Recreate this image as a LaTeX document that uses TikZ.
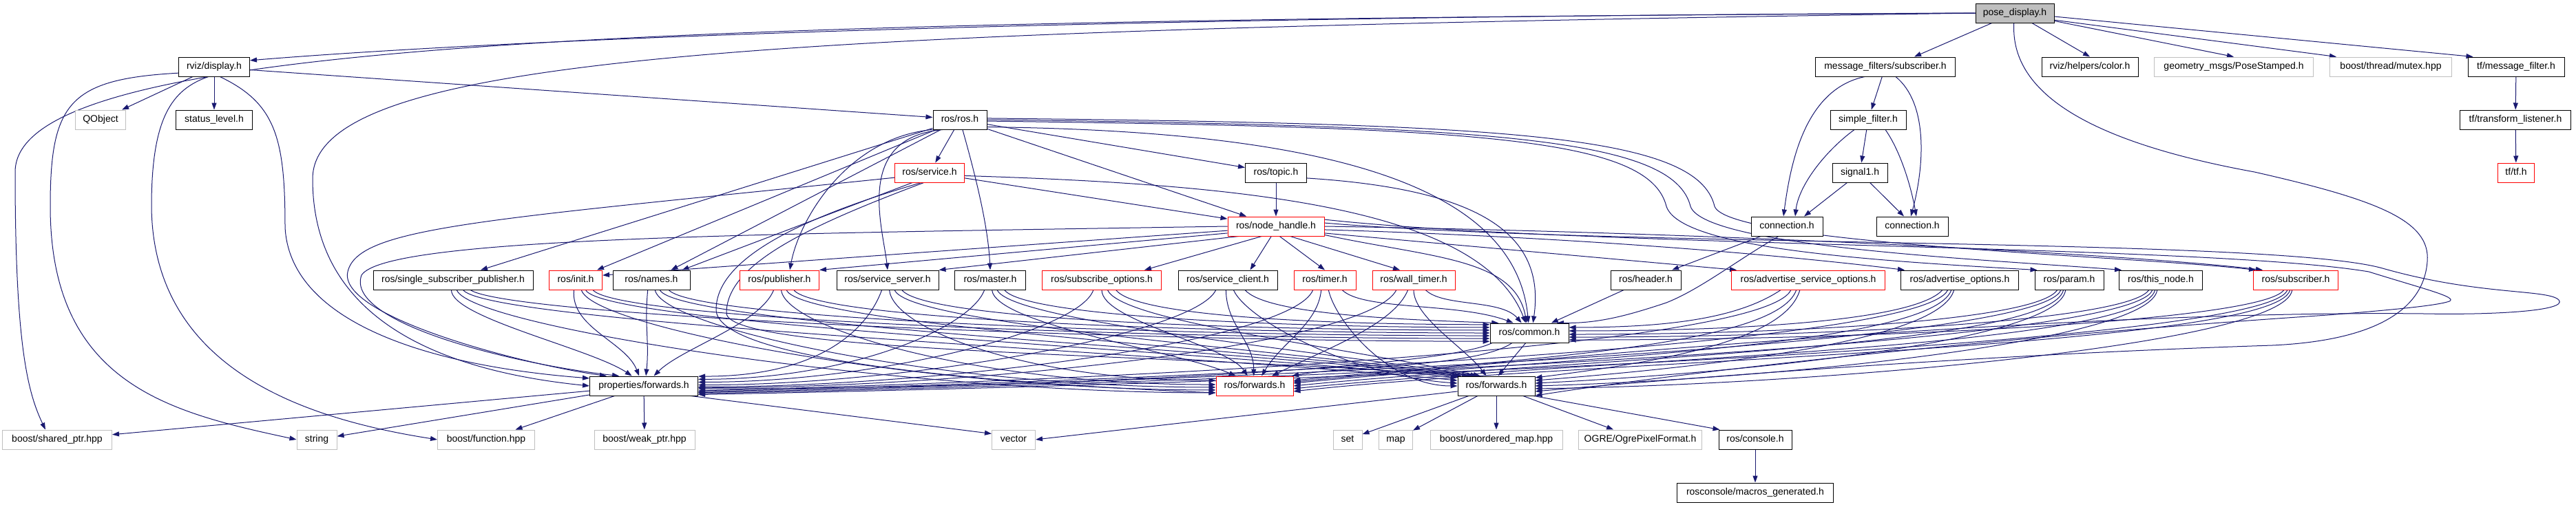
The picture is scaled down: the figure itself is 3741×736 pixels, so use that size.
\documentclass[tikz,border=0pt]{standalone}
\usepackage{fontspec}
\setmainfont{Liberation Sans}
\usetikzlibrary{arrows.meta}
\definecolor{edgec}{HTML}{191970}
\definecolor{gryc}{HTML}{BFBFBF}
\pgfdeclarelayer{back}
\pgfdeclarelayer{bg}
\pgfsetlayers{back,bg,main}
\tikzset{
 nb/.style={draw=black,line width=1pt,fill=white,rectangle,minimum height=28pt,inner sep=0pt,text height=10pt,text depth=3pt,font=\fontsize{14}{16}\selectfont},
 nr/.style={nb,draw=red},
 ng/.style={nb,draw=gryc},
 np/.style={nb,fill=gryc},
 e/.style={draw=edgec,line width=1pt,-{Triangle[length=10pt,width=7pt]}},
}
\newcommand\ed[4]{\draw[e] (#1) .. controls +(#3) and +(#4) .. (#2);}
\begin{document}
\begin{tikzpicture}[x=1pt,y=-1pt]
\begin{pgfonlayer}{back}
\fill[white] (0,0) rectangle (3741,736);
\end{pgfonlayer}
\useasboundingbox (0,0) rectangle (3741,736);
% row A/B
\node[np,minimum width=114pt] (pose) at (2926,19) {pose\_display.h};
\node[nb,minimum width=103pt] (rvizdisp) at (311,97) {rviz/display.h};
\node[nb,minimum width=203pt] (mfsub) at (2738,97) {message\_filters/subscriber.h};
\node[nb,minimum width=140pt] (color) at (3035,97) {rviz/helpers/color.h};
\node[ng,minimum width=231pt] (geom) at (3244,97) {geometry\_msgs/PoseStamped.h};
\node[ng,minimum width=177pt] (mutex) at (3472,97) {boost/thread/mutex.hpp};
\node[nb,minimum width=140pt] (tfmf) at (3654,97) {tf/message\_filter.h};
% row C
\node[ng,minimum width=73pt] (qobject) at (146,174) {QObject};
\node[nb,minimum width=111pt] (status) at (311,174) {status\_level.h};
\node[nb,minimum width=78pt] (rosros) at (1394,174) {ros/ros.h};
\node[nb,minimum width=110pt] (simple) at (2713,174) {simple\_filter.h};
\node[nb,minimum width=161pt] (tflisten) at (3653,174) {tf/transform\_listener.h};
% row D
\node[nr,minimum width=101pt] (service) at (1350,251) {ros/service.h};
\node[nb,minimum width=89pt] (topic) at (1853,251) {ros/topic.h};
\node[nb,minimum width=80pt] (signal) at (2701,251) {signal1.h};
\node[nr,minimum width=53pt] (tftf) at (3654,251) {tf/tf.h};
% row E
\node[nr,minimum width=140pt] (nh) at (1853,329) {ros/node\_handle.h};
\node[nb,minimum width=104pt] (connL) at (2595,329) {connection.h};
\node[nb,minimum width=104pt] (connR) at (2777,329) {connection.h};
% row F
\node[nb,minimum width=232pt] (ssp) at (658,407) {ros/single\_subscriber\_publisher.h};
\node[nr,minimum width=77pt] (init) at (836,407) {ros/init.h};
\node[nb,minimum width=112pt] (names) at (946,407) {ros/names.h};
\node[nr,minimum width=115pt] (pub) at (1132,407) {ros/publisher.h};
\node[nb,minimum width=148pt] (sserver) at (1289,407) {ros/service\_server.h};
\node[nb,minimum width=103pt] (master) at (1438,407) {ros/master.h};
\node[nr,minimum width=173pt] (subopt) at (1600,407) {ros/subscribe\_options.h};
\node[nb,minimum width=144pt] (sclient) at (1783,407) {ros/service\_client.h};
\node[nr,minimum width=90pt] (timer) at (1924,407) {ros/timer.h};
\node[nr,minimum width=120pt] (wtimer) at (2053,407) {ros/wall\_timer.h};
\node[nb,minimum width=102pt] (header) at (2390,407) {ros/header.h};
\node[nr,minimum width=223pt] (aso) at (2626,407) {ros/advertise\_service\_options.h};
\node[nb,minimum width=171pt] (ao) at (2846,407) {ros/advertise\_options.h};
\node[nb,minimum width=100pt] (param) at (3005,407) {ros/param.h};
\node[nb,minimum width=121pt] (thisnode) at (3138,407) {ros/this\_node.h};
\node[nr,minimum width=123pt] (sub) at (3334,407) {ros/subscriber.h};
% row G/H
\node[nb,minimum width=114pt] (common) at (2221,484) {ros/common.h};
\node[nb,minimum width=157pt] (propfwd) at (935,561) {properties/forwards.h};
\node[nr,minimum width=112pt] (fwdR) at (1822,561) {ros/forwards.h};
\node[nb,minimum width=112pt] (fwdB) at (2173,561) {ros/forwards.h};
% row I/J
\node[ng,minimum width=159pt] (sharedptr) at (83,639) {boost/shared\_ptr.hpp};
\node[ng,minimum width=58pt] (string) at (460,639) {string};
\node[ng,minimum width=141pt] (function) at (706,639) {boost/function.hpp};
\node[ng,minimum width=146pt] (weakptr) at (936,639) {boost/weak\_ptr.hpp};
\node[ng,minimum width=63pt] (vector) at (1472,639) {vector};
\node[ng,minimum width=42pt] (set) at (1957,639) {set};
\node[ng,minimum width=49pt] (map) at (2027,639) {map};
\node[ng,minimum width=192pt] (umap) at (2173,639) {boost/unordered\_map.hpp};
\node[ng,minimum width=179pt] (ogre) at (2382,639) {OGRE/OgrePixelFormat.h};
\node[nb,minimum width=106pt] (console) at (2549,639) {ros/console.h};
\node[nb,minimum width=227pt] (macros) at (2549,716) {rosconsole/macros\_generated.h};

\begin{pgfonlayer}{bg}
% pose_display.h
\draw[e] (pose.west) .. controls (1500,24) and (700,60) .. (rvizdisp.10);
\draw[e] (pose.west) .. controls (900,30) and (22,60) .. (22,250) .. controls (22,500) and (40,570) .. ([xshift=-17pt]sharedptr.north);
\draw[e] (pose.west) .. controls (1100,45) and (454,80) .. (454,260) .. controls (454,470) and (650,540) .. (propfwd.180);
\draw[e] (pose) -- ([xshift=-60pt]mfsub.north east);
\draw[e] (pose) -- (color.north);
\draw[e] (pose) -- (geom.north);
\draw[e] (pose.-10) -- ([xshift=10pt]mutex.north west);
\draw[e] (pose.-5) -- ([xshift=8pt]tfmf.north west);
\draw[e] (pose.-95) .. controls (2920,120) and (3000,200) .. (3274,250) .. controls (3450,290) and (3530,320) .. (3525,380) .. controls (3520,450) and (3450,495) .. (3300,502) .. controls (2900,515) and (2500,545) .. (fwdB.-8);
% rviz/display.h
\draw[e] (rvizdisp) -- (qobject);
\draw[e] (rvizdisp) -- (status);
\draw[e] (rvizdisp.-5) -- (rosros.175);
\draw[e] (rvizdisp.-170) .. controls (100,115) and (73,150) .. (73,300) .. controls (73,560) and (250,600) .. (string.west);
\draw[e] (rvizdisp.-120) .. controls (250,130) and (220,170) .. (220,300) .. controls (222,540) and (450,610) .. (function.west);
\draw[e] (rvizdisp.-60) .. controls (400,150) and (414,200) .. (414,330) .. controls (420,460) and (600,530) .. (propfwd.172);
% message filters
\draw[e] (mfsub) -- (simple);
\draw[e] ([xshift=-30pt]mfsub.south) .. controls (2620,130) and (2600,240) .. ([xshift=-5pt]connL.north);
\draw[e] ([xshift=15pt]mfsub.south) .. controls (2800,150) and (2795,240) .. ([xshift=-2pt]connR.north);
\draw[e] (simple) -- (signal);
\draw[e] ([xshift=-20pt]simple.south) .. controls (2650,220) and (2612,270) .. ([xshift=12pt]connL.north);
\draw[e] ([xshift=25pt]simple.south) .. controls (2760,220) and (2775,270) .. ([xshift=6pt]connR.north);
\draw[e] (signal) -- ([xshift=25pt]connL.north);
\draw[e] (signal) -- ([xshift=-12pt]connR.north);
\draw[e] (tfmf) -- (tflisten);
\draw[e] (tflisten) -- (tftf);
\draw[e] (connL) -- (header);
\draw[e] (connL.-130) .. controls (2520,380) and (2470,420) .. (2420,440) .. controls (2360,460) and (2320,470) .. (common.20);
% ros/ros.h
\draw[e] (rosros) -- (service);
\draw[e] (rosros) -- (topic);
\draw[e] (rosros) -- (nh);
\draw[e] (rosros) -- ([xshift=40pt]ssp.north);
\draw[e] (rosros) -- ([xshift=-8pt]init.north east);
\draw[e] (rosros) -- ([xshift=-28pt]names.north east);
\draw[e] (rosros.-160) .. controls (1230,200) and (1160,320) .. ([xshift=15pt]pub.north);
\draw[e] (rosros.-150) .. controls (1240,200) and (1282,330) .. (sserver.north);
\draw[e] (rosros.-75) .. controls (1418,260) and (1435,330) .. (master.north);
\draw[e] (rosros.-15) .. controls (1900,190) and (2200,260) .. (common.95);
\draw[e] (rosros.-3) .. controls (2150,185) and (2395,200) .. (2420,300) .. controls (2440,360) and (2700,378) .. ([xshift=4pt]param.north west);
\draw[e] (rosros.0) .. controls (2170,183) and (2430,200) .. (2455,300) .. controls (2475,360) and (2900,378) .. ([xshift=4pt]thisnode.north west);
\draw[e] (rosros.3) .. controls (2190,180) and (2465,195) .. (2490,300) .. controls (2510,355) and (3100,372) .. ([xshift=4pt]sub.north west);
% ros/service.h
\draw[e] (service) -- (nh);
\draw[e] (service.-150) -- ([xshift=-12pt]names.north east);
\draw[e] (service.-5) .. controls (1800,268) and (2150,300) .. (common.110);
\draw[e] (service.-172) .. controls (700,320) and (520,330) .. (505,395) .. controls (490,460) and (760,530) .. (propfwd.165);
\draw[e] (service.-130) .. controls (1150,320) and (1040,380) .. (1040,450) .. controls (1040,530) and (1500,560) .. (fwdR.190);
\draw[e] (service.-120) .. controls (1170,330) and (1055,385) .. (1055,455) .. controls (1055,515) and (1750,515) .. (fwdB.165);
% ros/topic.h
\draw[e] (topic) -- (nh);
\draw[e] (topic.-10) .. controls (2150,275) and (2245,340) .. (common.70);
% ros/node_handle.h
\draw[e] (nh.-172) -- (pub.north east);
\draw[e] (nh.-165) -- (sserver.north east);
\draw[e] (nh.-145) -- ([xshift=-25pt]subopt.north east);
\draw[e] (nh.-115) -- ([xshift=-40pt]sclient.north east);
\draw[e] (nh.-70) -- (timer.north);
\draw[e] (nh.-35) -- ([xshift=-20pt]wtimer.north);
\draw[e] (nh.185) -- (init.10);
\draw[e] (nh.-8) -- ([xshift=8pt]aso.north west);
\draw[e] (nh.-4) .. controls (2300,345) and (2600,372) .. ([xshift=6pt]ao.north west);
\draw[e] (nh.0) .. controls (2500,338) and (3100,370) .. ([xshift=14pt]sub.north west);
\draw[e] (nh.-10) .. controls (2080,375) and (2200,375) .. (common.105);
\draw[e] (nh.180) .. controls (1100,340) and (560,345) .. (525,400) .. controls (500,470) and (750,530) .. (propfwd.158);
\draw[e] (nh.8) .. controls (2300,360) and (3200,355) .. (3440,395) .. controls (3520,420) and (3570,432) .. (3557,438) .. controls (3540,444) and (3480,450) .. (3380,458) .. controls (2900,490) and (2450,540) .. (fwdB.-14);
\draw[e] (nh.4) .. controls (2350,360) and (3300,345) .. (3460,390) .. controls (3600,430) and (3700,420) .. (3716,436) .. controls (3730,452) and (3620,458) .. (3520,456) .. controls (3000,450) and (2200,525) .. (fwdR.6);
% row F fan-out
\ed{ssp.-100}{propfwd.140}{0,40}{-60,-40}
\ed{ssp.-70}{fwdR.190}{20,55}{-450,0}
\ed{ssp.-45}{fwdB.172}{40,50}{-400,-40}
\ed{ssp.-30}{common.192}{60,40}{-500,0}
\ed{init.-100}{propfwd.115}{-5,55}{-20,-50}
\ed{init.-60}{fwdR.186}{15,55}{-420,0}
\ed{init.-45}{fwdB.168}{25,50}{-380,-40}
\ed{init.-30}{common.188}{35,45}{-460,0}
\ed{names.-110}{propfwd.78}{-5,50}{5,-50}
\ed{names.-70}{fwdR.182}{10,55}{-400,0}
\ed{names.-50}{fwdB.164}{25,50}{-360,-40}
\ed{names.-30}{common.184}{40,45}{-420,0}
\ed{pub.-120}{propfwd.45}{-20,50}{40,-40}
\ed{pub.-80}{fwdR.178}{5,55}{-350,0}
\ed{pub.-55}{fwdB.160}{20,50}{-330,-40}
\ed{pub.-35}{common.180}{35,45}{-380,0}
\ed{sserver.-120}{propfwd.10}{-20,55}{180,0}
\ed{sserver.-80}{fwdR.172}{5,55}{-280,0}
\ed{sserver.-55}{fwdB.156}{20,50}{-300,-40}
\ed{sserver.-35}{common.176}{35,45}{-330,0}
\ed{master.-120}{propfwd.7}{-20,55}{220,0}
\ed{master.-80}{fwdR.152}{5,50}{-80,-35}
\ed{master.-55}{fwdB.152}{20,45}{-260,-40}
\ed{master.-35}{common.172}{30,40}{-280,0}
\ed{subopt.-130}{propfwd.4}{-20,60}{260,0}
\ed{subopt.-90}{fwdR.125}{0,45}{-30,-45}
\ed{subopt.-60}{fwdB.148}{20,45}{-220,-45}
\ed{subopt.-35}{common.168}{30,40}{-220,0}
\ed{sclient.-140}{propfwd.1}{-30,65}{300,0}
\ed{sclient.-100}{fwdR.95}{0,50}{0,-50}
\ed{sclient.-60}{fwdB.176}{20,45}{-150,-10}
\ed{sclient.-30}{common.162}{30,35}{-150,-5}
\ed{timer.-140}{propfwd.-1}{-30,75}{350,0}
\ed{timer.-110}{fwdR.55}{-5,50}{30,-50}
\ed{timer.-70}{fwdB.180}{10,45}{-100,0}
\ed{timer.-30}{common.148}{30,30}{-80,-30}
\ed{wtimer.-150}{propfwd.-2}{-40,80}{400,0}
\ed{wtimer.-120}{fwdR.30}{-20,50}{80,-40}
\ed{wtimer.-90}{fwdB.135}{0,40}{-30,-40}
\ed{wtimer.-40}{common.128}{25,25}{-30,-35}
\draw[e] (header) -- (common);
\ed{aso.-160}{common.8}{-60,40}{150,0}
\ed{aso.-150}{propfwd.-5}{-40,85}{600,-15}
\ed{aso.-140}{fwdR.8}{-30,85}{300,-30}
\ed{aso.-130}{fwdB.12}{-20,70}{200,-25}
\ed{ao.-150}{common.3}{-40,45}{250,0}
\ed{ao.-140}{propfwd.-6}{-40,85}{650,-15}
\ed{ao.-130}{fwdR.4}{-30,85}{350,-35}
\ed{ao.-120}{fwdB.8}{-20,75}{250,-20}
\ed{param.-140}{common.-2}{-30,45}{320,0}
\ed{param.-130}{propfwd.-7}{-30,85}{700,-15}
\ed{param.-120}{fwdR.0}{-20,85}{400,-40}
\ed{param.-110}{fwdB.4}{-10,75}{300,-15}
\ed{thisnode.-140}{common.-6}{-30,45}{380,0}
\ed{thisnode.-130}{propfwd.-8}{-30,85}{750,-15}
\ed{thisnode.-120}{fwdR.-4}{-20,85}{450,-45}
\ed{thisnode.-110}{fwdB.0}{-10,75}{350,-10}
\ed{sub.-140}{common.-10}{-30,45}{450,0}
\ed{sub.-130}{propfwd.-9}{-30,85}{800,-15}
\ed{sub.-120}{fwdR.-8}{-20,85}{400,-45}
\ed{sub.-110}{fwdB.-4}{-10,80}{400,-5}
% ros/common.h
\draw[e] (common.-110) -- (fwdB.80);
\ed{common.-150}{fwdR.15}{-50,35}{80,-15}
\ed{common.-165}{propfwd.-3}{-80,40}{450,0}
% bottom
\draw[e] (propfwd) -- (sharedptr);
\draw[e] (propfwd) -- (string);
\draw[e] (propfwd) -- (function);
\draw[e] (propfwd) -- (weakptr);
\draw[e] (propfwd.-12) -- (vector.165);
\draw[e] (fwdB.-172) -- (vector.east);
\draw[e] (fwdB) -- (set);
\draw[e] (fwdB) -- (map);
\draw[e] (fwdB) -- (umap);
\draw[e] (fwdB) -- (ogre);
\draw[e] (fwdB.-15) -- ([xshift=2pt]console.north west);
\draw[e] (console) -- (macros);
\end{pgfonlayer}
\end{tikzpicture}
\end{document}
